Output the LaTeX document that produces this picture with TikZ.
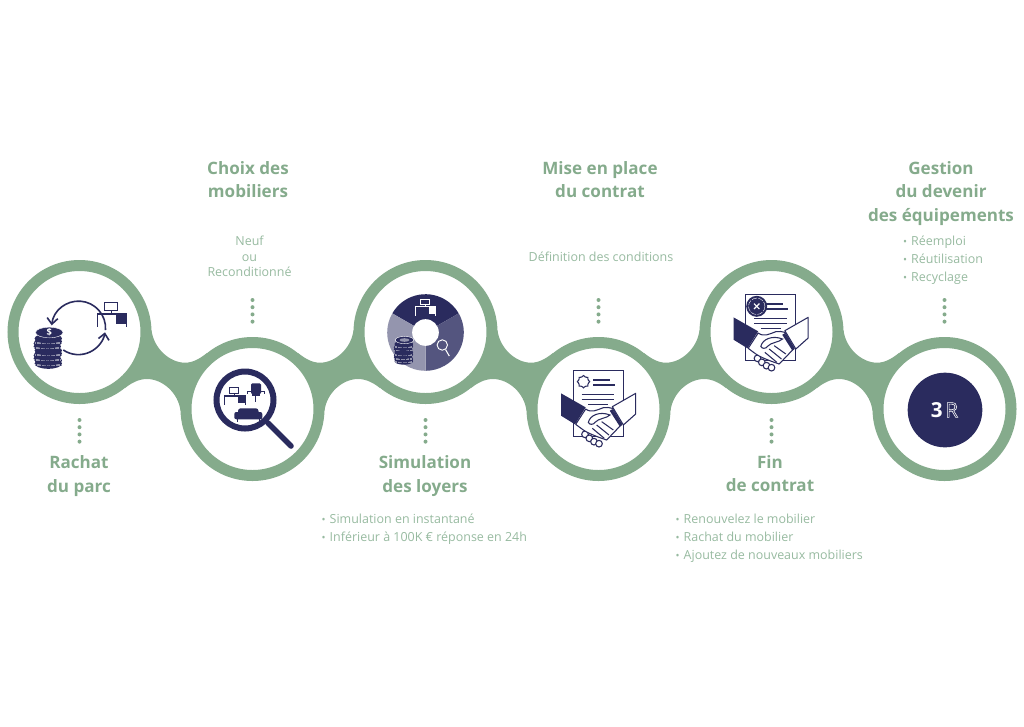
\documentclass[tikz,border=0pt]{standalone}
\usepackage{fontspec}
\setmainfont{Open Sans}
\usetikzlibrary{arrows.meta,backgrounds,calc}
\definecolor{bandgreen}{HTML}{85AB8C}
\definecolor{titlegreen}{HTML}{85AB8C}
\definecolor{bodygreen}{HTML}{97BAA0}
\definecolor{navy}{HTML}{2A2B5E}
\definecolor{navymid}{HTML}{54557F}
\definecolor{navylight}{HTML}{9495AE}
\newcommand{\hollowtext}[1]{\special{pdf:code 1 Tr 0.45 w 1 1 1 RG}#1\special{pdf:code 0 Tr}}
\newcommand{\itembullet}{{\footnotesize\textbullet}\hspace{3pt}}
\tikzset{
  stepring/.style={circle, draw=bandgreen, fill=white, line width=8.25pt, minimum size=99.75pt, inner sep=0pt},
  titletext/.style={align=center, text=titlegreen, font=\fontsize{12.8}{17.6}\selectfont\bfseries},
  bodytext/.style={align=center, text=bodygreen, font=\fontsize{9.35}{11.6}\selectfont},
  listtext/.style={align=left, anchor=west, text=bodygreen, font=\fontsize{9.35}{13.5}\selectfont},
  dotline/.style={draw=bandgreen, line width=3pt, line cap=round, dash pattern=on 0pt off 5.4pt},
  link/.style={fill=bandgreen},
  icon/.style={draw=navy, line width=.8pt},
  pics/deskicon/.style={code={
    \draw[draw=#1, line width=.6pt] (-6.7,-12.3) rectangle (6,-4.3);
    \draw[draw=#1, line width=.6pt] (0,-4.3) -- (0,-1);
    \fill[#1] (-14.5,-1.7) rectangle (15.5,0);
    \fill[#1] (4.7,0) rectangle (15.5,9);
    \draw[draw=#1, line width=.6pt] (-14,0) -- (-14,12);
    \draw[draw=#1, line width=.6pt] (15,0) -- (15,12);
  }},
  pics/coinstack/.style={code={
    \foreach \dx/\dy in {-1/28,-2/23,-1/18,-2/11,-1/6}{
      \fill[navy] ({\dx},{\dy+3}) ellipse[x radius=13.7,y radius=5.3];
      \draw[navylight, line width=1.4pt, dash pattern=on .35pt off .6pt] ({\dx-13},{\dy+4.5}) -- ({\dx+13},{\dy+4.5});
      \fill[navy] ({\dx},{\dy}) ellipse[x radius=13.7,y radius=5];
    }
    \draw[white, line width=.3pt, fill=navy] (0,0) ellipse[x radius=13.7,y radius=5.3];
  }},
  pics/handshake/.style={code={
    \begin{scope}[shift={(-135,-135)}]
      \draw[icon] (55,17) rectangle (205,215);
      \draw[icon] (115,45) -- (165,45);
      \draw[icon] (115,60) -- (180,60);
      \draw[icon] (80,88) -- (178,88);
      \draw[icon] (80,103) -- (178,103);
      \draw[icon] (100,118) -- (160,118);
      % fingers under the hands
      \foreach \fx/\fy in {90/208,103/220,117/230,132/236}{
        \draw[icon, fill=white] (\fx,\fy) circle (10);
      }
      % hands
      \draw[icon, fill=white, line join=round] (62,178) -- (92,132) .. controls (110,145) and (125,135) .. (145,128)
        .. controls (155,126) and (165,128) .. (172,130) -- (200,178) -- (155,225)
        .. controls (125,215) and (100,205) .. (85,195) -- cycle;
      \draw[icon, fill=white] (100,172) .. controls (105,150) and (135,138) .. (165,150)
        .. controls (155,160) and (130,160) .. (120,172) .. controls (115,180) and (103,180) .. (100,172) -- cycle;
      \draw[icon] (140,170) -- (175,195);
      \draw[icon] (125,180) -- (162,210);
      \draw[icon] (112,190) -- (148,220);
      % cuffs
      \fill[navy] (18,85) -- (92,127) -- (60,178) -- (18,152) -- cycle;
      \draw[icon, fill=white, line join=round] (242,85) -- (172,125) -- (205,180) -- (242,147) -- cycle;
      \draw[navy, line width=2.2pt] (168,135) -- (198,182);
    \end{scope}
  }}
}
\begin{document}
\begin{tikzpicture}[x=.75pt, y=-.75pt]
\useasboundingbox (0,0) rectangle (1024,726);
% the six rings
\node [stepring] (ring1) at (79.5,332) {};
\node [stepring] (ring2) at (252.5,409) {};
\node [stepring] (ring3) at (425.5,332) {};
\node [stepring] (ring4) at (598.5,409) {};
\node [stepring] (ring5) at (771.5,332) {};
\node [stepring] (ring6) at (944.5,409) {};
\begin{scope}[on background layer]
  \foreach \upper/\mirror in {ring1/1,ring3/-1,ring3/1,ring5/-1,ring5/1}{
    \begin{scope}[shift={(\upper.center)}, xscale=\mirror]
      \fill[link] (72,-2) .. controls (74,16) and (90,30.7) .. (105.5,30.7)
        .. controls (114,30.7) and (121,26) .. (127.5,21) -- (101,79)
        .. controls (99,61) and (83,47) .. (67.5,47)
        .. controls (59,47) and (52,51) .. (45.5,56) -- cycle;
    \end{scope}
  }
\end{scope}
% dots
\foreach \n/\off in {1/88,3/88,5/88}{
  \draw[dotline] ($(ring\n.center)+(0,\off)$) -- ($(ring\n.center)+(0,\off+22)$);
}
\foreach \n/\off in {2/-109,4/-109,6/-109}{
  \draw[dotline] ($(ring\n.center)+(0,\off)$) -- ($(ring\n.center)+(0,\off+22)$);
}
% texts
\node [titletext] (title1) at (79,476) {Rachat\\du parc};
\node [titletext] (title2) at (248,179.5) {Choix des\\mobiliers};
\node [titletext] (title3) at (425,476) {Simulation\\des loyers};
\node [titletext] (title4) at (600,179.5) {Mise en place\\du contrat};
\node [titletext] (title5) at (770,473.5) {Fin\\de contrat};
\node [titletext] (title6) at (941,193.5) {Gestion\\du devenir\\des équipements};
\node [bodytext] (body2) at (249.5,256.5) {Neuf\\ou\\Reconditionné};
\node [bodytext] (body4) at (601,257) {Définition des conditions};
\node [listtext] (list3) at (317,529) {\itembullet Simulation en instantané\\\itembullet Inférieur à 100K € réponse en 24h};
\node [listtext] (list5) at (671,538) {\itembullet Renouvelez le mobilier\\\itembullet Rachat du mobilier\\\itembullet Ajoutez de nouveaux mobiliers};
\node [listtext] (list6) at (898.5,260) {\itembullet Réemploi\\\itembullet Réutilisation\\\itembullet Recyclage};
% step 1
\pic at (49.3,332.5) {coinstack};
\node [text=white, font=\fontsize{7}{7}\selectfont\bfseries] (dollar) at (49.3,332.5) {\$};
\pic at (111,315) {deskicon=navy};
\draw[navy, line width=1.2pt, -{Straight Barb[length=4.5pt,width=8pt]}] (105.5,330) arc[start angle=4, end angle=-174, radius=27];
\draw[navy, line width=1.2pt, -{Straight Barb[length=4.5pt,width=8pt]}] (63.3,350) arc[start angle=124, end angle=10, radius=27];
% step 2
\draw[navy, line width=4.5pt] (245,400) circle (28.5);
\draw[navy, line width=4.2pt, line cap=round] (268,423) -- (291,446);
\pic[scale=.72] at (234.5,396.5) {deskicon=navy};
\fill[navy, rounded corners=1pt] (251,383.3) rectangle (261,394.3);
\draw[navy, line width=.7pt] (247.7,394) -- (247.7,391.7) -- (264.3,391.7) -- (264.3,394);
\fill[navy] (252,394.3) rectangle (260,396);
\draw[navy, line width=.7pt] (255.7,396) -- (255.7,401.7);
\fill[navy, rounded corners=2pt] (238,408.3) rectangle (258.5,416);
\fill[navy, rounded corners=1.5pt] (234.3,412) rectangle (262.3,419.3);
\draw[navy, line width=.7pt] (237.5,419) -- (237.5,421.5);
\draw[navy, line width=.7pt] (259.5,419) -- (259.5,421.5);
% step 3
\foreach \from/\to/\col in {210/330/navy,-30/90/navymid,90/210/navylight}{
  \fill[\col] (425.5,332.5) -- ($(425.5,332.5)+(\from:38.3)$) arc[start angle=\from, end angle=\to, radius=38.3] -- cycle;
}
\node [circle, fill=white, minimum size=20pt, inner sep=0pt] (hole) at (425.5,332.5) {};
\pic[scale=.69] at (425.4,307.4) {deskicon=white};
\pic[scale=.68] at (404.5,340) {coinstack};
\fill[navylight] (404.5,340) ellipse[x radius=5,y radius=1.8];
\draw[white, line width=.7pt] (442.3,345) circle (5.2);
\draw[white, line width=.8pt] (445.5,349.5) -- (449.3,356);
% step 4
\pic[scale=.3333] at (600,410) {handshake};
\draw[icon, smooth cycle] plot[domain=0:345, samples=24] ({583.5+(5.5+.7*cos(8*\x))*cos(\x)}, {381.7+(5.5+.7*cos(8*\x))*sin(\x)});
% step 5
\pic[scale=.3333] at (772.5,334) {handshake};
\fill[navy] (756.7,306.3) circle (10.5);
\draw[white, line width=.3pt, dash pattern=on 4pt off 1pt] (756.7,306.3) circle (8.2);
\draw[white, line width=.9pt] (754,303.6) -- (759.4,309);
\draw[white, line width=.9pt] (754,309) -- (759.4,303.6);
% step 6
\node [circle, fill=navy, minimum size=56pt, inner sep=0pt] (badge) at (945,410) {};
\node [text=white, font=\fontsize{15.5}{15.5}\selectfont\bfseries] (three) at (936.7,410) {3};
\node [text=white, font=\fontsize{15.5}{15.5}\selectfont] (letter) at (951.7,410) {\hollowtext{R}};
\end{tikzpicture}
\end{document}
